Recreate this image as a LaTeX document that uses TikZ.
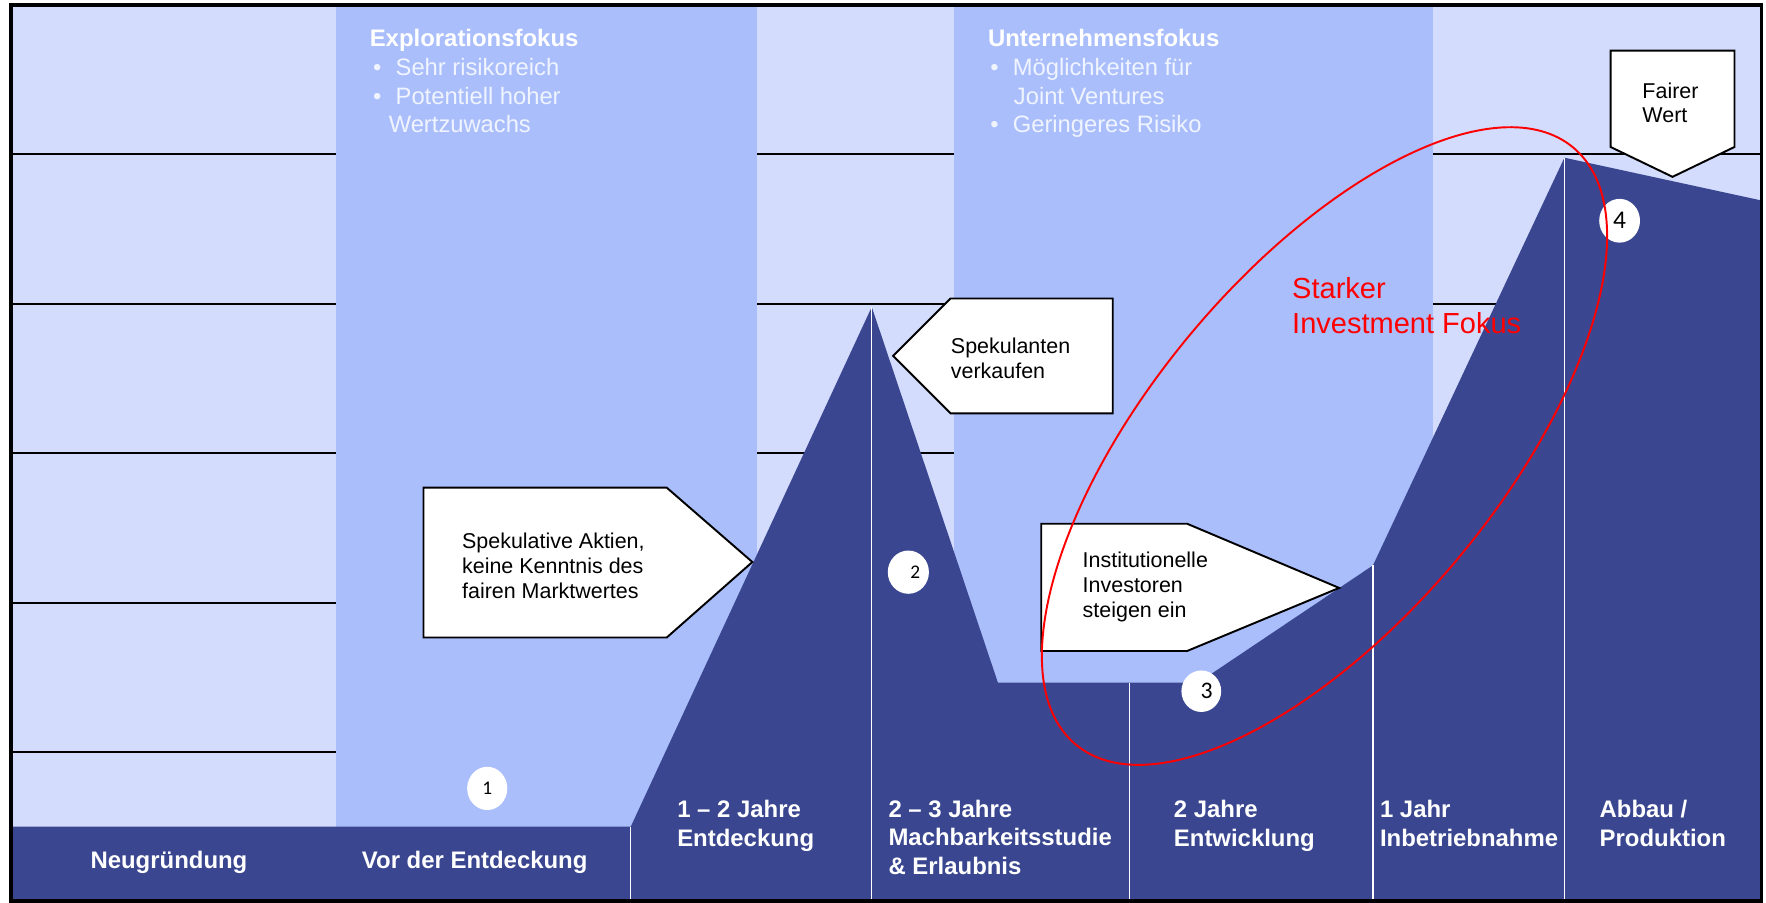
\documentclass[tikz,border=0pt]{standalone}
\usepackage{fontspec}
\setmainfont{Liberation Sans}
\newfontfamily\numfont{Carlito}
\usetikzlibrary{shapes.geometric}
\definecolor{lightcol}{RGB}{211,220,253}
\definecolor{midcol}{RGB}{170,190,252}
\definecolor{darkcol}{RGB}{58,71,144}
\definecolor{bullettext}{RGB}{240,244,255}
\newcommand{\bul}{\makebox[12.8pt][l]{\textbullet}}
\begin{document}
\begin{tikzpicture}[x=0.0225cm,y=-0.0225cm,
  gridline/.style={line width=1.1pt,black},
  whitesep/.style={white,line width=0.85pt},
  pointbox/.style={draw=black,line width=1.1pt,fill=white,line join=miter},
  boxtext/.style={anchor=base west,inner sep=0pt,align=left,font=\fontsize{12.2}{14}\selectfont},
  phaselabel/.style={anchor=base west,inner sep=0pt,align=left,text=white,font=\fontsize{13.6}{16.3}\selectfont\bfseries},
  focushead/.style={anchor=base west,inner sep=0pt,text=white,font=\fontsize{13.6}{16.3}\selectfont\bfseries},
  focusbul/.style={anchor=base west,inner sep=0pt,align=left,text=bullettext,font=\fontsize{13.5}{16.2}\selectfont},
  numdisc/.style={ellipse,fill=white,inner sep=0pt}]
\useasboundingbox (0,0) rectangle (1568,801);
\fill[lightcol] (10,4.5) rectangle (1564,800);
\draw[gridline] (10,137) -- (1564,137);
\draw[gridline] (10,269.5) -- (1564,269.5);
\draw[gridline] (10,402.5) -- (1564,402.5);
\draw[gridline] (10,535) -- (1564,535);
\draw[gridline] (10,668) -- (1564,668);
\fill[midcol] (298,4.5) rectangle (672,734);
\fill[midcol] (847,4.5) rectangle (1272,734);
\fill[darkcol] (10,800) -- (10,734) -- (560,734) -- (774,272.5) -- (886,606) -- (1064,606)
  -- (1219,502) -- (1389,140) -- (1564,178) -- (1564,800) -- cycle;
\draw[whitesep] (560,734) -- (560,800);
\draw[whitesep] (774,272.5) -- (774,800);
\draw[whitesep] (1003,606) -- (1003,800);
\draw[whitesep] (1219,502) -- (1219,800);
\draw[whitesep] (1389,140) -- (1389,800);
\node[focushead] (explhead) at (328,41.5) {Explorationsfokus};
\node[focusbul] (explbul) at (331,118) {\bul Sehr risikoreich\\\bul Potentiell hoher\\\hspace*{8.9pt}Wertzuwachs};
\node[focushead] (unthead) at (877,41.5) {Unternehmensfokus};
\node[focusbul] (untbul) at (879,118) {\bul Möglichkeiten für\\\hspace*{13.4pt}Joint Ventures\\\bul Geringeres Risiko};
\node[phaselabel,anchor=base] (neu) at (150,771) {Neugründung};
\node[phaselabel,anchor=base] (vor) at (421.5,771) {Vor der Entdeckung};
\node[phaselabel] (entd) at (601,751.4) {1 – 2 Jahre\\Entdeckung};
\node[phaselabel] (mach) at (788.6,776.5) {2 – 3 Jahre\\Machbarkeitsstudie\\\& Erlaubnis};
\node[phaselabel] (entw) at (1042,751.4) {2 Jahre\\Entwicklung};
\node[phaselabel] (inbe) at (1225,751.4) {1 Jahr\\Inbetriebnahme};
\node[phaselabel] (abba) at (1420,751.4) {Abbau /\\Produktion};
\draw[pointbox] (376,433) -- (592,433) -- (668,499) -- (592,566) -- (376,566) -- cycle;
\node[boxtext] (spek) at (410,531) {Spekulative Aktien,\\keine Kenntnis des\\fairen Marktwertes};
\draw[pointbox] (793,316) -- (844,265) -- (988,265) -- (988,367) -- (844,367) -- cycle;
\node[boxtext] (verk) at (844,336) {Spekulanten\\verkaufen};
\draw[pointbox] (924.5,465) -- (1054,465) -- (1189,522) -- (1054,578) -- (924.5,578) -- cycle;
\node[boxtext] (inst) at (961,548) {Institutionelle\\Investoren\\steigen ein};
\draw[pointbox] (1430,45) -- (1540,45) -- (1540,130.5) -- (1485,157) -- (1430,130.5) -- cycle;
\node[boxtext] (fair) at (1458,109) {Fairer\\Wert};
\node[numdisc,minimum width=22.8pt,minimum height=24.6pt,font=\numfont\fontsize{11}{11}\selectfont] (n1) at (432.6,700) {1};
\node[numdisc,minimum width=23.4pt,minimum height=24.6pt,font=\numfont\fontsize{11}{11}\selectfont] (n2) at (806.5,508) {\hspace*{8pt}\raisebox{-3pt}{2}};
\node[numdisc,minimum width=22.6pt,minimum height=23.6pt,font=\numfont\fontsize{13.5}{13.5}\selectfont] (n3) at (1066.6,613.7) {\hspace*{6pt}3};
\node[numdisc,minimum width=23.2pt,minimum height=24.9pt,font=\numfont\fontsize{14.5}{14.5}\selectfont] (n4) at (1438,196) {4};
\coordinate (focusc) at (1176,396);
\draw[red,line width=1.1pt,rotate around={50.2:(focusc)}] (focusc) ellipse [x radius=345, y radius=155];
\node[anchor=base west,inner sep=0pt,align=left,text=red,font=\fontsize{16.5}{19.8}\selectfont] (fokus) at (1147,296) {Starker\\Investment Fokus};
\draw[black,line width=2.2pt] (10,4.5) rectangle (1564,800);
\end{tikzpicture}
\end{document}
